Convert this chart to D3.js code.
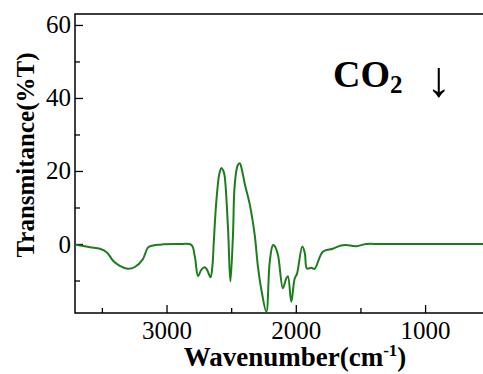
<!DOCTYPE html>
<html>
<head>
<meta charset="utf-8">
<script src="https://cdn.jsdelivr.net/npm/d3@7"></script>
<style>
  html, body { margin: 0; padding: 0; background: #fff; }
  svg text { font-family: "Liberation Serif", "Times New Roman", serif; fill: #000; }
</style>
</head>
<body>
<svg id="chart" width="483" height="374"></svg>
<script>
// spectrum: wavenumber (cm-1) and %T
const wavenumbers = [3708, 3669, 3592, 3515, 3461, 3415, 3361, 3299, 3245, 3184, 3144, 3113, 3067, 3029, 2900,
  2807, 2781, 2756, 2730, 2704, 2686, 2660, 2645, 2635, 2614, 2590, 2575, 2560, 2550, 2524, 2506, 2486, 2473,
  2450, 2434, 2415, 2395, 2357, 2318, 2293, 2264, 2228, 2202, 2177, 2164, 2138, 2100, 2075, 2061, 2035, 2009,
  1991, 1950, 1930, 1914, 1880, 1855, 1791, 1714, 1650, 1610, 1533, 1456, 1350, 1200, 1000, 800, 552];
const transmittance = [-0.2, -0.4, -0.9, -1.3, -2.3, -4.5, -6.0, -6.8, -6.3, -4.2, -1.0, -0.5, -0.2, -0.1, 0,
  -0.3, -3.5, -8.8, -7.0, -6.4, -7.1, -9.1, -6, 0.2, 12, 19.5, 20.8, 20, 18.5, 4, -10.3, 2.5, 16,
  21.5, 22.1, 20, 16.5, 11, 2.5, -6.2, -13, -18.6, -5, -0.3, -0.5, -3, -12.1, -9.5, -8.8, -15.8, -9.5,
  -8.2, -0.7, -2.5, -6.7, -6.5, -6.8, -2.1, -1.3, -0.4, -0.3, -0.6, 0, 0, 0, 0, 0, 0];

const xMajor = [3000, 2000, 1000];
const xMinor = [3500, 2500, 1500];
const yMajor = [0, 20, 40, 60];
const yMinor = [-10, 10, 30, 50];

const plotLeft = 75, plotRight = 483, plotTop = 14, plotBottom = 313;

const svg = d3.select('#chart');

const x = d3.scaleLinear().domain([3708, 552]).range([plotLeft, plotRight]);
const y = d3.scaleLinear().domain([-18.9, 63]).range([plotBottom, plotTop]);

const points = wavenumbers.map((w, i) => ({ w: w, t: transmittance[i] }));

svg.append('clipPath').attr('id', 'plot-clip')
  .append('rect')
  .attr('x', plotLeft).attr('y', plotTop)
  .attr('width', plotRight - plotLeft).attr('height', plotBottom - plotTop);

// frame (no right edge, it runs off the picture)
svg.append('path')
  .attr('d', `M${plotRight},${plotTop}H${plotLeft}V${plotBottom}H${plotRight}`)
  .attr('fill', 'none')
  .attr('stroke', '#000')
  .attr('stroke-width', 1.5);

// ticks point inwards
function styleAxis(g) {
  g.attr('font-family', 'Liberation Serif').attr('font-size', 25);
  g.select('.domain').remove();
  g.selectAll('.tick line').attr('stroke', '#000').attr('stroke-width', 1.3);
  g.selectAll('.tick text')
    .style('font-family', 'Liberation Serif')
    .style('font-size', '25px')
    .attr('fill', '#000');
}

svg.append('g')
  .attr('transform', `translate(0,${plotBottom})`)
  .call(d3.axisBottom(x).tickValues(xMajor).tickSize(-8).tickPadding(8).tickFormat(d3.format('d')))
  .call(styleAxis);

svg.append('g')
  .attr('transform', `translate(0,${plotBottom})`)
  .call(d3.axisBottom(x).tickValues(xMinor).tickSize(-5).tickFormat(''))
  .call(styleAxis);

svg.append('g')
  .attr('transform', `translate(${plotLeft},0)`)
  .call(d3.axisLeft(y).tickValues(yMajor).tickSize(-8).tickPadding(4).tickFormat(d3.format('d')))
  .call(styleAxis);

svg.append('g')
  .attr('transform', `translate(${plotLeft},0)`)
  .call(d3.axisLeft(y).tickValues(yMinor).tickSize(-5).tickFormat(''))
  .call(styleAxis);

const line = d3.line()
  .x(d => x(d.w))
  .y(d => y(d.t))
  .curve(d3.curveCatmullRom.alpha(0.5));

svg.append('path')
  .datum(points)
  .attr('clip-path', 'url(#plot-clip)')
  .attr('fill', 'none')
  .attr('stroke', '#1b7d1b')
  .attr('stroke-width', 2)
  .attr('stroke-linejoin', 'round')
  .attr('d', line);

// axis titles
const xTitle = svg.append('text')
  .attr('x', 295).attr('y', 366)
  .attr('text-anchor', 'middle')
  .style('font-size', '27px').style('font-weight', 'bold');
xTitle.append('tspan').text('Wavenumber(cm');
xTitle.append('tspan').attr('dy', -10).style('font-size', '17px').text('-1');
xTitle.append('tspan').attr('dy', 10).text(')');

svg.append('text')
  .attr('transform', 'translate(34,155) rotate(-90)')
  .attr('text-anchor', 'middle')
  .style('font-size', '25px').style('font-weight', 'bold')
  .text('Transmitance(%T)');

// annotation
const note = svg.append('text')
  .attr('x', 333).attr('y', 87)
  .style('font-size', '38px').style('font-weight', 'bold');
note.append('tspan').text('CO');
note.append('tspan').attr('dy', 6).style('font-size', '25px').text('2');
svg.append('text')
  .attr('x', 439).attr('y', 96)
  .attr('text-anchor', 'middle')
  .style('font-family', '"Liberation Serif", serif')
  .style('font-size', '50px')
  .text('↓');
</script>
</body>
</html>
